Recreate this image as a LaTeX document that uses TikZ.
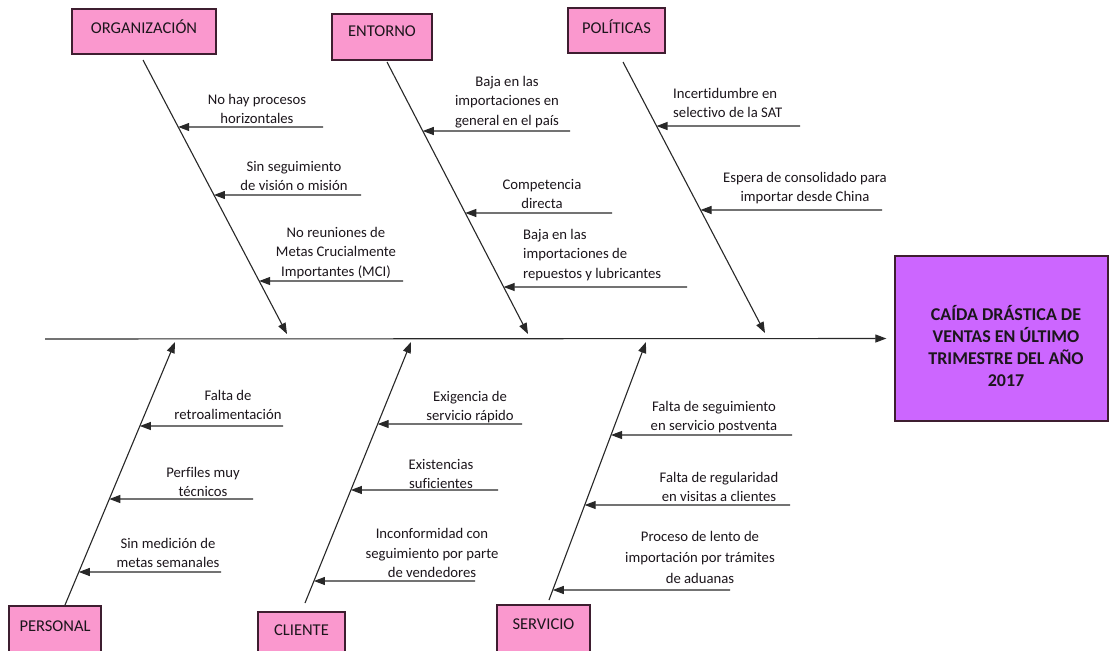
\documentclass[tikz,border=0pt]{standalone}
\usepackage{fontspec}
\setmainfont{Carlito}[Ligatures=NoCommon]
\usetikzlibrary{arrows.meta,calc}
\definecolor{boxpink}{RGB}{250,152,206}
\definecolor{headpurple}{RGB}{204,102,255}
\definecolor{edgedark}{RGB}{62,30,48}
\definecolor{inkline}{RGB}{40,40,40}
\definecolor{inktext}{RGB}{28,22,28}

\begin{document}
\begin{tikzpicture}[x=1pt,y=-1pt,
  catbox/.style={draw=edgedark, line width=1.1pt, fill=boxpink, inner sep=0pt},
  cattext/.style={font=\fontsize{16.5}{20}\selectfont, text=inktext, inner sep=0pt, anchor=base},
  headbox/.style={draw=edgedark, line width=1.3pt, fill=headpurple, inner sep=0pt},
  headtext/.style={font=\bfseries\fontsize{18}{22}\selectfont, text=inktext, align=center, inner sep=0pt},
  cause/.style={font=\fontsize{14.7}{19.5}\selectfont, text=inktext, align=center, inner sep=0pt},
  bone/.style={draw=inkline, line width=1.1pt, -{Triangle[length=11pt,width=8pt]}},
  sub/.style={draw=inkline, line width=1.1pt, -{Triangle[length=11pt,width=8pt]}},
]
\useasboundingbox[fill=white] (0,0) rectangle (1112,651);

% category boxes
\node[catbox, minimum width=144pt, minimum height=45pt] (org) at (144,31.5) {};
\node[cattext] (orgt) at (144,33) {ORGANIZACIÓN};
\node[catbox, minimum width=100pt, minimum height=46pt] (ent) at (382,37) {};
\node[cattext] (entt) at (382,36) {ENTORNO};
\node[catbox, minimum width=97pt, minimum height=45pt] (pol) at (616.5,30.5) {};
\node[cattext] (polt) at (616.5,33) {POLÍTICAS};
\node[catbox, minimum width=92pt, minimum height=52pt] (per) at (55,632) {};
\node[cattext] (pert) at (55,631) {PERSONAL};
\node[catbox, minimum width=87pt, minimum height=46pt] (cli) at (301.5,635) {};
\node[cattext] (clit) at (301.5,635) {CLIENTE};
\node[catbox, minimum width=93pt, minimum height=53pt] (ser) at (543.5,631.5) {};
\node[cattext] (sert) at (543.5,629) {SERVICIO};

% effect
\node[headbox, minimum width=213pt, minimum height=165pt] (head) at (1001.5,338.5) {};
\node[headtext] (headt) at (1006,346) {CAÍDA DRÁSTICA DE\\VENTAS EN ÚLTIMO\\TRIMESTRE DEL AÑO\\2017};

% spine
\coordinate (spine) at (45,339);
\draw[bone, shorten >=8pt] (spine) -- (head.west);

% bone end points
\coordinate (orgs) at (143,60);  \coordinate (orge) at (287,334);
\coordinate (ents) at (387,62);  \coordinate (ente) at (528,334);
\coordinate (pols) at (623,62);  \coordinate (pole) at (765,333);
\coordinate (pers) at (65,605);  \coordinate (pere) at (175,342);
\coordinate (clis) at (305,603); \coordinate (clie) at (411,342);
\coordinate (sers) at (549,600); \coordinate (sere) at (646,342);

\draw[bone] (orgs) -- (orge);
\draw[bone] (ents) -- (ente);
\draw[bone] (pols) -- (pole);
\draw[bone] (pers) -- (pere);
\draw[bone] (clis) -- (clie);
\draw[bone] (sers) -- (sere);

% ORGANIZACIÓN causes
\node[cause] (o1) at (257,109) {No hay procesos\\horizontales};
\node[cause] (o2) at (294,176) {Sin seguimiento\\de visión o misión};
\node[cause] (o3) at (336,253) {No reuniones de\\Metas Crucialmente\\Importantes (MCI)};
\coordinate (o1t) at (323,127); \coordinate (o1h) at ($(orgs)!0.2445!(orge)$);
\coordinate (o2t) at (361,195); \coordinate (o2h) at ($(orgs)!0.4927!(orge)$);
\coordinate (o3t) at (403,281); \coordinate (o3h) at ($(orgs)!0.8066!(orge)$);
\draw[sub] (o1t) -- (o1h);
\draw[sub] (o2t) -- (o2h);
\draw[sub] (o3t) -- (o3h);

% ENTORNO causes
\node[cause] (e1) at (507,102) {Baja en las\\importaciones en\\general en el país};
\node[cause] (e2) at (542,194) {Competencia\\directa};
\node[cause, align=left, anchor=west] (e3) at (523,255) {Baja en las\\importaciones de\\repuestos y lubricantes};
\coordinate (e1t) at (570,131); \coordinate (e1h) at ($(ents)!0.2537!(ente)$);
\coordinate (e2t) at (612,213); \coordinate (e2h) at ($(ents)!0.5551!(ente)$);
\coordinate (e3t) at (687,287); \coordinate (e3h) at ($(ents)!0.8272!(ente)$);
\draw[sub] (e1t) -- (e1h);
\draw[sub] (e2t) -- (e2h);
\draw[sub] (e3t) -- (e3h);

% POLÍTICAS causes
\node[cause, align=left, anchor=west] (p1) at (673,103) {Incertidumbre en\\selectivo de la SAT};
\node[cause] (p2) at (805,188) {Espera de consolidado para\\importar desde China};
\coordinate (p1t) at (800,126); \coordinate (p1h) at ($(pols)!0.2362!(pole)$);
\coordinate (p2t) at (882,210); \coordinate (p2h) at ($(pols)!0.5461!(pole)$);
\draw[sub] (p1t) -- (p1h);
\draw[sub] (p2t) -- (p2h);

% PERSONAL causes
\node[cause] (r1) at (228,405) {Falta de\\retroalimentación};
\node[cause] (r2) at (203,482) {Perfiles muy\\técnicos};
\node[cause] (r3) at (168,553) {Sin medición de\\metas semanales};
\coordinate (r1t) at (283,426); \coordinate (r1h) at ($(pers)!0.6806!(pere)$);
\coordinate (r2t) at (253,499); \coordinate (r2h) at ($(pers)!0.4030!(pere)$);
\coordinate (r3t) at (221,572); \coordinate (r3h) at ($(pers)!0.1255!(pere)$);
\draw[sub] (r1t) -- (r1h);
\draw[sub] (r2t) -- (r2h);
\draw[sub] (r3t) -- (r3h);

% CLIENTE causes
\node[cause] (c1) at (470,407) {Exigencia de\\servicio rápido};
\node[cause] (c2) at (441,474) {Existencias\\suficientes};
\node[cause] (c3) at (432,553) {Inconformidad con\\seguimiento por parte\\de vendedores};
\coordinate (c1t) at (522,424); \coordinate (c1h) at ($(clis)!0.6858!(clie)$);
\coordinate (c2t) at (498,490); \coordinate (c2h) at ($(clis)!0.4330!(clie)$);
\coordinate (c3t) at (475,581); \coordinate (c3h) at ($(clis)!0.0843!(clie)$);
\draw[sub] (c1t) -- (c1h);
\draw[sub] (c2t) -- (c2h);
\draw[sub] (c3t) -- (c3h);

% SERVICIO causes
\node[cause] (s1) at (714,417) {Falta de seguimiento\\en servicio postventa};
\node[cause] (s2) at (719,487) {Falta de regularidad\\en visitas a clientes};
\node[cause, font=\fontsize{14.7}{21}\selectfont] (s3) at (700,557) {Proceso de lento de\\importación por trámites\\de aduanas};
\coordinate (s1t) at (792,435); \coordinate (s1h) at ($(sers)!0.6395!(sere)$);
\coordinate (s2t) at (790,505); \coordinate (s2h) at ($(sers)!0.3682!(sere)$);
\coordinate (s3t) at (730,590); \coordinate (s3h) at ($(sers)!0.0388!(sere)$);
\draw[sub] (s1t) -- (s1h);
\draw[sub] (s2t) -- (s2h);
\draw[sub] (s3t) -- (s3h);
\end{tikzpicture}
\end{document}
